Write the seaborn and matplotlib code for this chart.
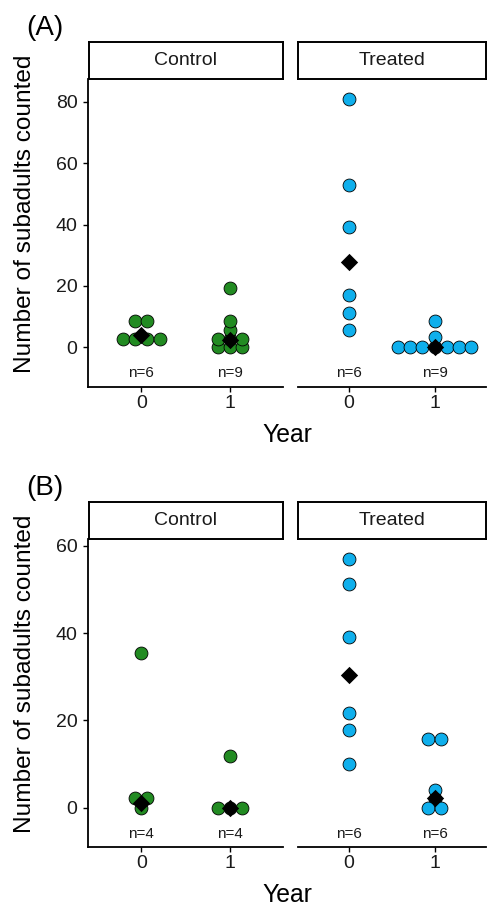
import numpy as np
import pandas as pd
import matplotlib
matplotlib.use("Agg")
import matplotlib.pyplot as plt
import seaborn as sns

# ---------------- data ----------------
groups = ["Control", "Treated"]
years = [0, 1]

# Panel A: dot values as drawn (bin centres)
a_control_y0 = [2.8, 2.8, 2.8, 2.8, 8.6, 8.6]
a_control_y1 = [0, 0, 0, 2.8, 2.8, 2.8, 5.8, 8.6, 19.4]
a_treated_y0 = [81.0, 53.0, 39.2, 16.9, 11.3, 5.8]
a_treated_y1 = [0, 0, 0, 0, 0, 0, 0, 3.2, 8.6]
a_control_median = [4.0, 2.4]
a_treated_median = [27.8, 0.0]

# Panel B
b_control_y0 = [35.4, 2.2, 2.2, 0]
b_control_y1 = [11.9, 0, 0, 0]
b_treated_y0 = [57.0, 51.2, 39.2, 21.7, 17.8, 10.0]
b_treated_y1 = [15.7, 15.7, 4.1, 2.0, 0, 0]
b_control_median = [1.1, 0.0]
b_treated_median = [30.4, 2.2]

a_ticks = [0, 20, 40, 60, 80]
b_ticks = [0, 20, 40, 60]

panels = {
    "A": {
        "values": {("Control", 0): a_control_y0, ("Control", 1): a_control_y1,
                   ("Treated", 0): a_treated_y0, ("Treated", 1): a_treated_y1},
        "medians": {"Control": a_control_median, "Treated": a_treated_median},
        "ticks": a_ticks,
    },
    "B": {
        "values": {("Control", 0): b_control_y0, ("Control", 1): b_control_y1,
                   ("Treated", 0): b_treated_y0, ("Treated", 1): b_treated_y1},
        "medians": {"Control": b_control_median, "Treated": b_treated_median},
        "ticks": b_ticks,
    },
}

colors = {"Control": "#228B22", "Treated": "#0FAFEC"}

# ---------------- style ----------------
sns.set_theme(style="ticks")
plt.rcParams["font.family"] = ["Liberation Sans", "DejaVu Sans"]
TXT = "#1a1a1a"

W, H = 487, 905
DPI = 100
fig = plt.figure(figsize=(W / DPI, H / DPI), dpi=DPI)


def box(x0, y0, x1, y1):
    return [x0 / W, 1 - y1 / H, (x1 - x0) / W, (y1 - y0) / H]


# layout (pixels): strip top, panel top, panel bottom, y-limits, n-label y
layout = {
    "A": dict(strip_top=41.7, top=79.3, bottom=386.7, ylim=(-12.83, 87.3), ny=-8.5,
              tag_base=35),
    "B": dict(strip_top=501.7, top=539.0, bottom=846.7, ylim=(-8.93, 61.53), ny=-6.1,
              tag_base=495),
}
facet_x = {"Control": (88.0, 283.3), "Treated": (297.5, 486.0)}

DOT_PX = 12.3   # dot stacking step in pixels
XLIM = (-0.6, 1.6)


def stack_offsets(vals, step):
    vals = np.asarray(vals, dtype=float)
    offs = np.zeros(len(vals))
    for v in np.unique(vals):
        idx = np.where(vals == v)[0]
        k = len(idx)
        offs[idx] = (np.arange(k) - (k - 1) / 2.0) * step
    return offs


for pname, pdata in panels.items():
    L = layout[pname]
    for g in groups:
        x0, x1 = facet_x[g]
        ax = fig.add_axes(box(x0, L["top"], x1, L["bottom"]))
        step = DOT_PX * (XLIM[1] - XLIM[0]) / (x1 - x0)
        rows = []
        for yr in years:
            vals = pdata["values"][(g, yr)]
            offs = stack_offsets(vals, step)
            for v, o in zip(vals, offs):
                rows.append({"x": yr + o, "y": v})
        df = pd.DataFrame(rows)
        sns.scatterplot(data=df, x="x", y="y", ax=ax, s=86, color=colors[g],
                        edgecolor="black", linewidth=0.6, zorder=3, clip_on=False)
        med = pd.DataFrame({"x": years, "y": pdata["medians"][g]})
        sns.scatterplot(data=med, x="x", y="y", ax=ax, marker="D", s=78,
                        color="black", edgecolor="black", linewidth=0, zorder=4,
                        clip_on=False)
        for yr in years:
            n = len(pdata["values"][(g, yr)])
            ax.text(yr, L["ny"], f"n={n}", ha="center", va="center",
                    fontsize=11, color=TXT)
        ax.set_xlim(*XLIM)
        ax.set_ylim(*L["ylim"])
        ax.set_xticks(years)
        ax.set_xticklabels([str(y) for y in years])
        ax.set_xlabel("")
        ax.set_ylabel("")
        ax.set_facecolor("none")
        for sp in ["top", "right"]:
            ax.spines[sp].set_visible(False)
        ax.spines["bottom"].set_linewidth(1.3)
        ax.spines["bottom"].set_color("black")
        ax.tick_params(axis="x", length=3.6, width=1.0, pad=2.5, labelsize=14,
                       colors="black", labelcolor=TXT)
        if g == "Control":
            ax.spines["left"].set_linewidth(1.3)
            ax.spines["left"].set_color("black")
            ax.set_yticks(pdata["ticks"])
            ax.set_yticklabels([str(t) for t in pdata["ticks"]])
            ax.tick_params(axis="y", length=3.6, width=1.0, pad=4, labelsize=14,
                           colors="black", labelcolor=TXT)
        else:
            ax.spines["left"].set_visible(False)
            ax.set_yticks([])
        # strip
        sx = fig.add_axes(box(x0 + 0.6, L["strip_top"], x1, L["top"]))
        sx.set_xticks([])
        sx.set_yticks([])
        sx.set_facecolor("white")
        for sp in sx.spines.values():
            sp.set_linewidth(1.4)
            sp.set_color("black")
        sx.text(0.5, 0.5, g, ha="center", va="center", fontsize=14, color=TXT,
                transform=sx.transAxes)

    # axis titles and tag
    fig.text(287.5 / W, 1 - (L["bottom"] + 55) / H, "Year", ha="center",
             va="baseline", fontsize=17.8, color="black")
    fig.text(25 / W, 1 - ((L["strip_top"] + L["bottom"]) / 2) / H,
             "Number of subadults counted", rotation=90, ha="center",
             va="center", fontsize=17.6, color="black")
    fig.text(26 / W, 1 - L["tag_base"] / H, f"({pname})", ha="left",
             va="baseline", fontsize=20, color="black")

fig.savefig("out.png", dpi=DPI)
